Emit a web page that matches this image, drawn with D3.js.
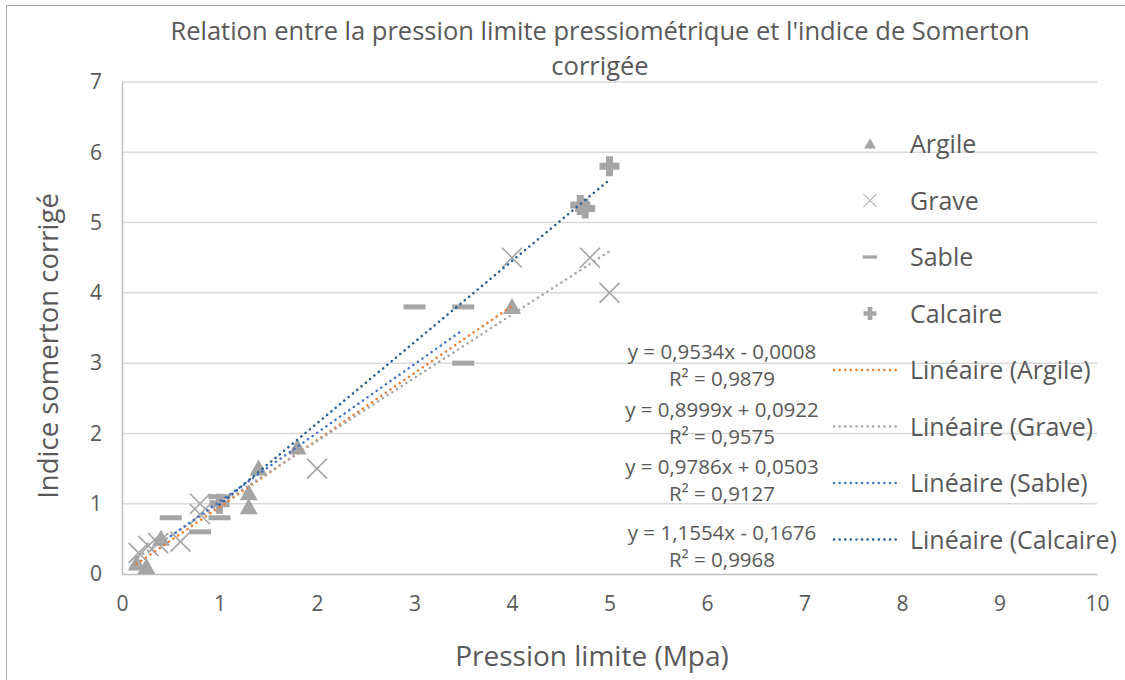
<!DOCTYPE html>
<html>
<head>
<meta charset="utf-8">
<script src="https://cdn.jsdelivr.net/npm/d3@7"></script>
<style>
  body { margin: 0; background: #fff; }
  svg { font-family: "Open Sans", sans-serif; }
</style>
</head>
<body>
<svg width="1125" height="680"></svg>
<script>
// data
var argile = [[0.15, 0.15], [0.25, 0.1], [0.4, 0.5], [1.3, 0.95], [1.3, 1.15], [1.4, 1.5], [1.8, 1.8], [4, 3.8]];
var grave = [[0.17, 0.3], [0.27, 0.4], [0.37, 0.44], [0.6, 0.46], [0.8, 1.0], [0.8, 0.85], [2, 1.5], [4, 4.5], [4.8, 4.5], [5, 4]];
var sable = [[0.5, 0.8], [0.8, 0.6], [1.0, 1.1], [1.0, 0.8], [3, 3.8], [3.5, 3.8], [3.5, 3.0]];
var calcaire = [[1, 1], [4.7, 5.25], [4.75, 5.2], [5, 5.8]];

var seriesNames = ["Argile", "Grave", "Sable", "Calcaire"];
var slopes = [0.9534, 0.8999, 0.9786, 1.1554];
var intercepts = [-0.0008, 0.0922, 0.0503, -0.1676];
var eqLabels = ["y = 0,9534x - 0,0008", "y = 0,8999x + 0,0922", "y = 0,9786x + 0,0503", "y = 1,1554x - 0,1676"];
var r2Labels = ["R² = 0,9879", "R² = 0,9575", "R² = 0,9127", "R² = 0,9968"];
var trendColors = ["#ed7d31", "#a5a5a5", "#4472c4", "#255e91"];
var xTicks = [0, 1, 2, 3, 4, 5, 6, 7, 8, 9, 10];
var yTicks = [0, 1, 2, 3, 4, 5, 6, 7];

var allSeries = [argile, grave, sable, calcaire];

var svg = d3.select("svg"),
    plotLeft = 122, plotRight = 1097, plotTop = 82, plotBottom = 574;

var x = d3.scaleLinear().domain([0, 10]).range([plotLeft, plotRight]);
var y = d3.scaleLinear().domain([0, 7]).range([plotBottom, plotTop]);

var markerColor = "#a5a5a5",
    textColor = "#595959";

// chart border
svg.append("rect")
    .attr("x", 6.5).attr("y", 5.5)
    .attr("width", 1130).attr("height", 690)
    .attr("fill", "none").attr("stroke", "#a6a6a6");

// title
svg.append("text")
    .attr("x", 600).attr("y", 40)
    .attr("text-anchor", "middle")
    .attr("font-size", 25.5).attr("fill", textColor)
    .text("Relation entre la pression limite pressiométrique et l'indice de Somerton");
svg.append("text")
    .attr("x", 600).attr("y", 75)
    .attr("text-anchor", "middle")
    .attr("font-size", 25.5).attr("fill", textColor)
    .text("corrigée");

// gridlines
svg.append("g").selectAll("line")
    .data(yTicks.filter(function(d) { return d > 0; }))
    .enter().append("line")
      .attr("x1", plotLeft).attr("x2", plotRight)
      .attr("y1", function(d) { return y(d); })
      .attr("y2", function(d) { return y(d); })
      .attr("stroke", "#d9d9d9").attr("stroke-width", 1.5);

// axes
var xAxis = svg.append("g")
    .attr("transform", "translate(0," + plotBottom + ")")
    .call(d3.axisBottom(x).tickValues(xTicks).tickSize(0).tickPadding(22).tickFormat(d3.format("d")));
var yAxis = svg.append("g")
    .attr("transform", "translate(" + plotLeft + ",0)")
    .call(d3.axisLeft(y).tickValues(yTicks).tickSize(0).tickPadding(20).tickFormat(d3.format("d")));

[xAxis, yAxis].forEach(function(a) {
    a.select(".domain").attr("stroke", "#bfbfbf").attr("stroke-width", 1.5);
    a.selectAll("text").attr("font-size", 21).attr("fill", textColor).attr("font-family", "'Open Sans', sans-serif");
});

// axis titles
svg.append("text")
    .attr("x", 592).attr("y", 666)
    .attr("text-anchor", "middle")
    .attr("font-size", 28).attr("fill", textColor)
    .text("Pression limite (Mpa)");
svg.append("text")
    .attr("transform", "translate(58,346) rotate(-90)")
    .attr("text-anchor", "middle")
    .attr("font-size", 27.5).attr("fill", textColor)
    .text("Indice somerton corrigé");

// marker shapes
function drawMarker(sel, i) {
    if (i === 0) {
        sel.append("path").attr("d", "M0,-9L9,7L-9,7Z").attr("fill", markerColor);
    } else if (i === 1) {
        sel.append("path").attr("d", "M-10,-10L10,10M-10,10L10,-10")
            .attr("stroke", markerColor).attr("stroke-width", 1.6).attr("fill", "none");
    } else if (i === 2) {
        sel.append("rect").attr("x", -11).attr("y", -2.5).attr("width", 22).attr("height", 5).attr("fill", markerColor);
    } else {
        sel.append("path").attr("d", "M-3.5,-10H3.5V-3.5H10V3.5H3.5V10H-3.5V3.5H-10V-3.5H-3.5Z").attr("fill", markerColor);
    }
}

var plot = svg.append("g");

allSeries.forEach(function(data, i) {
    plot.append("g").selectAll("g")
        .data(data)
        .enter().append("g")
          .attr("transform", function(d) { return "translate(" + x(d[0]) + "," + y(d[1]) + ")"; })
          .each(function() { drawMarker(d3.select(this), i); });
});

// trendlines over the data range of each series
allSeries.forEach(function(data, i) {
    var ext = d3.extent(data, function(d) { return d[0]; });
    plot.append("line")
        .attr("x1", x(ext[0])).attr("y1", y(slopes[i] * ext[0] + intercepts[i]))
        .attr("x2", x(ext[1])).attr("y2", y(slopes[i] * ext[1] + intercepts[i]))
        .attr("stroke", trendColors[i])
        .attr("stroke-width", 2.5)
        .attr("stroke-linecap", "round")
        .attr("stroke-dasharray", "0.1 5.5");
});

// equation labels
var eqY = [352, 410, 467, 533];
eqLabels.forEach(function(t, i) {
    svg.append("text")
        .attr("x", 722).attr("y", eqY[i] + 7)
        .attr("text-anchor", "middle")
        .attr("font-size", 20.5).attr("fill", textColor)
        .text(t);
    svg.append("text")
        .attr("x", 722).attr("y", eqY[i] + 34)
        .attr("text-anchor", "middle")
        .attr("font-size", 20.5).attr("fill", textColor)
        .text(r2Labels[i]);
});

// legend
var legend = svg.append("g");
seriesNames.forEach(function(name, i) {
    var ly = 144 + i * 56.5;
    var m = legend.append("g").attr("transform", "translate(870," + ly + ") scale(0.65)");
    drawMarker(m, i);
    legend.append("text")
        .attr("x", 910).attr("y", ly + 9)
        .attr("font-size", 25).attr("fill", textColor)
        .text(name);
});
seriesNames.forEach(function(name, i) {
    var ly = 144 + (i + 4) * 56.5;
    legend.append("line")
        .attr("x1", 834).attr("x2", 896)
        .attr("y1", ly).attr("y2", ly)
        .attr("stroke", trendColors[i])
        .attr("stroke-width", 2.5)
        .attr("stroke-linecap", "round")
        .attr("stroke-dasharray", "0.1 5.5");
    legend.append("text")
        .attr("x", 910).attr("y", ly + 9)
        .attr("font-size", 25).attr("fill", textColor)
        .text("Linéaire (" + name + ")");
});
</script>
</body>
</html>
